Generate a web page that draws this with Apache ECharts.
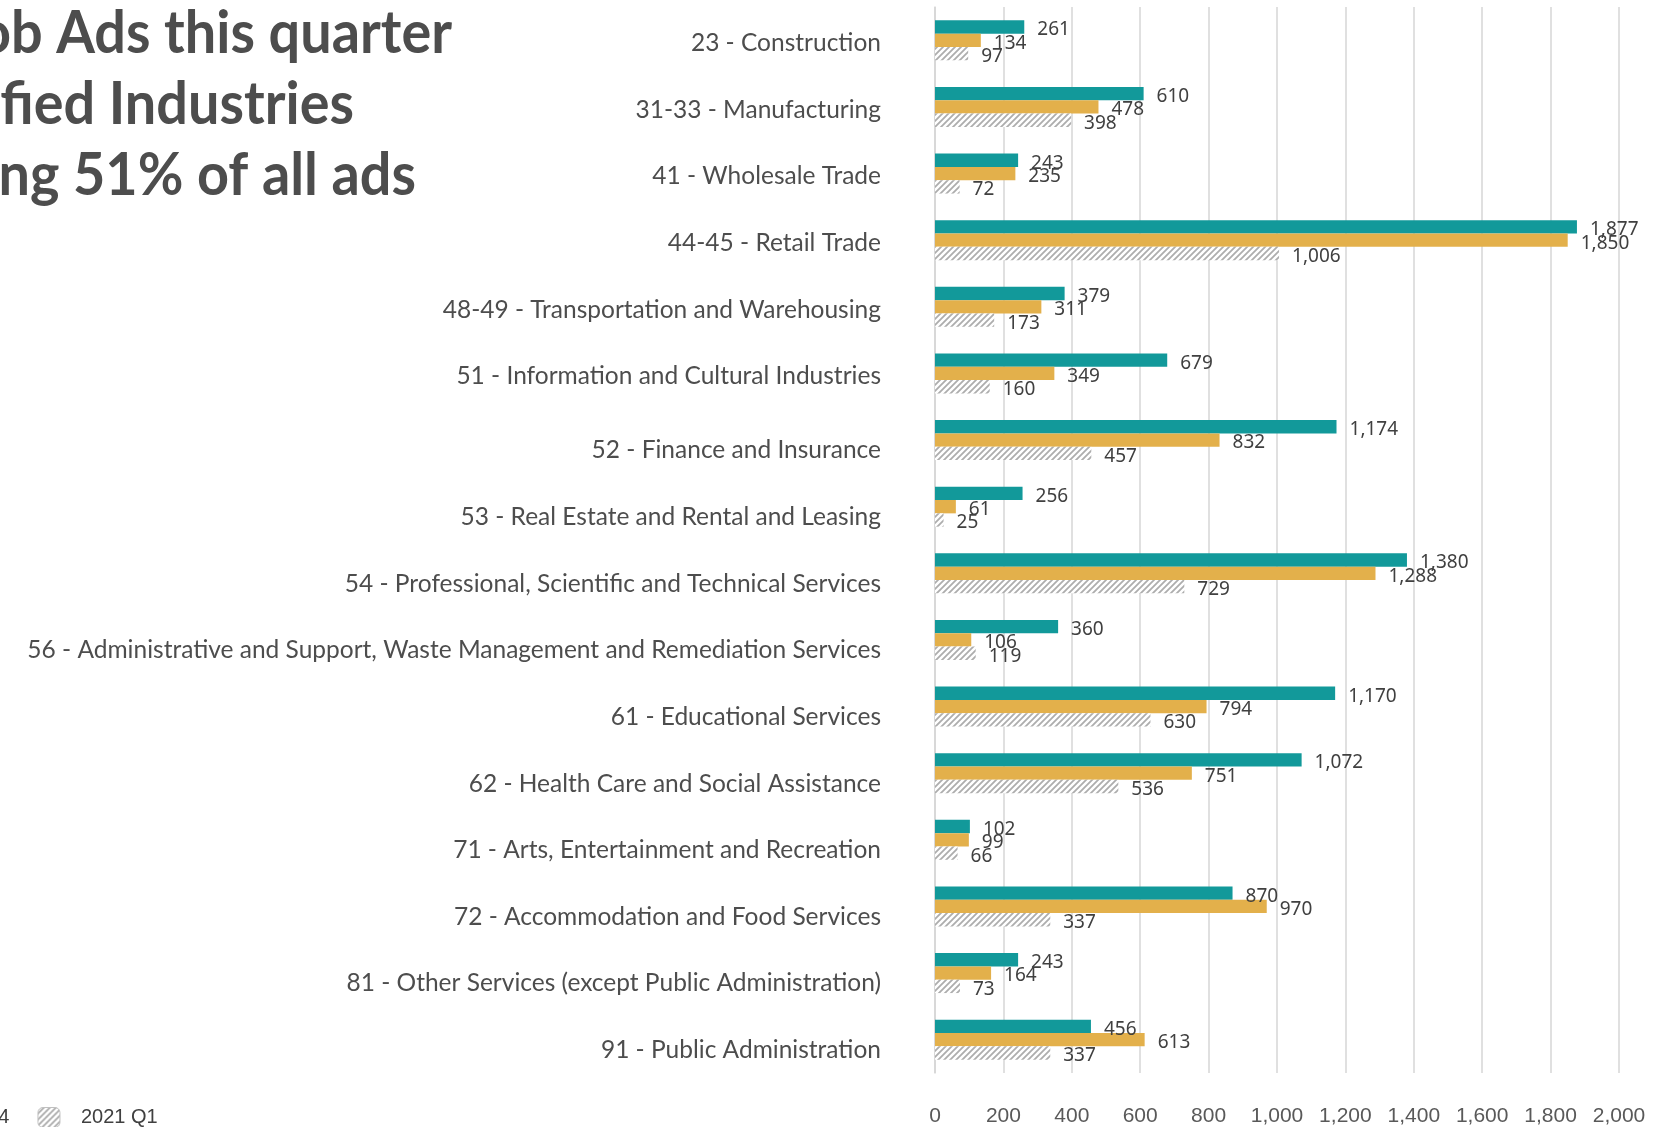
<!DOCTYPE html>
<html>
<head>
<meta charset="utf-8">
<script src="https://cdn.jsdelivr.net/npm/echarts@6/dist/echarts.min.js"></script>
<style>
  html, body { margin: 0; padding: 0; background: #fff; }
  #chart { width: 1674px; height: 1127px; }
</style>
</head>
<body>
<div id="chart"></div>
<script>
const industries = [
  '23 - Construction',
  '31-33 - Manufacturing',
  '41 - Wholesale Trade',
  '44-45 - Retail Trade',
  '48-49 - Transportation and Warehousing',
  '51 - Information and Cultural Industries',
  '52 - Finance and Insurance',
  '53 - Real Estate and Rental and Leasing',
  '54 - Professional, Scientific and Technical Services',
  '56 - Administrative and Support, Waste Management and Remediation Services',
  '61 - Educational Services',
  '62 - Health Care and Social Assistance',
  '71 - Arts, Entertainment and Recreation',
  '72 - Accommodation and Food Services',
  '81 - Other Services (except Public Administration)',
  '91 - Public Administration'
];
const seriesNames = ['2021 Q2', '2020 Q4', '2021 Q1'];
const adsTeal = [261, 610, 243, 1877, 379, 679, 1174, 256, 1380, 360, 1170, 1072, 102, 870, 243, 456];
const adsYellow = [134, 478, 235, 1850, 311, 349, 832, 61, 1288, 106, 794, 751, 99, 970, 164, 613];
const adsHatched = [97, 398, 72, 1006, 173, 160, 457, 25, 729, 119, 630, 536, 66, 337, 73, 337];
const titleLines = ['Top Job Ads this quarter', 'in Classified Industries', 'representing 51% of all ads'];

// diagonal hatch for the third series
function makeHatch() {
  const c = document.createElement('canvas');
  c.width = 6; c.height = 6;
  const ctx = c.getContext('2d');
  ctx.fillStyle = '#ffffff';
  ctx.fillRect(0, 0, 6, 6);
  ctx.strokeStyle = '#adadad';
  ctx.lineWidth = 1.8;
  ctx.beginPath();
  ctx.moveTo(0, 6); ctx.lineTo(6, 0);
  ctx.moveTo(-1, 1); ctx.lineTo(1, -1);
  ctx.moveTo(5, 7); ctx.lineTo(7, 5);
  ctx.stroke();
  return c;
}
const hatch = { image: makeHatch(), repeat: 'repeat' };

const chart = echarts.init(document.getElementById('chart'), null, { renderer: 'canvas' });

const valueLabel = {
  show: true,
  position: 'right',
  distance: 13,
  offset: [0, 3],
  fontFamily: 'Noto Sans',
  fontSize: 19,
  color: '#404040',
  formatter: p => p.value.toLocaleString('en-US')
};

const titleStyle = { align: 'right', verticalAlign: 'middle', fontFamily: 'Lato', fontWeight: 'bold', fontSize: 60, fill: '#4d4d4d' };

const option = {
  backgroundColor: '#ffffff',
  animation: false,
  grid: { left: 935, right: 55, top: 7, bottom: 52, containLabel: false },
  legend: {
    left: -263,
    top: 1102,
    itemWidth: 22,
    itemHeight: 20,
    itemGap: 28,
    textStyle: { fontFamily: 'Liberation Sans', fontSize: 20, color: '#404040', padding: [0, 0, 0, 16] },
    data: [
      { name: seriesNames[0] },
      { name: seriesNames[1] },
      { name: seriesNames[2], itemStyle: { borderColor: '#c0c0c0', borderWidth: 1 } }
    ]
  },
  xAxis: {
    type: 'value',
    min: 0,
    max: 2000,
    interval: 200,
    axisLine: { show: false },
    axisTick: { show: false },
    splitLine: { show: true, lineStyle: { color: '#d6d6d6', width: 1.5 } },
    axisLabel: {
      margin: 33,
      fontFamily: 'Liberation Sans',
      fontSize: 21,
      color: '#595959',
      formatter: v => v.toLocaleString('en-US')
    }
  },
  yAxis: {
    type: 'category',
    inverse: true,
    data: industries,
    axisLine: { show: true, lineStyle: { color: '#d6d6d6', width: 1.5 } },
    axisTick: { show: false },
    axisLabel: {
      margin: 54,
      fontFamily: 'Lato',
      fontSize: 24.5,
      color: '#4d4d4d',
      formatter: (v, i) => (i < 6 ? '{a|' + v + '}' : '{b|' + v + '}'),
      rich: {
        a: { fontFamily: 'Lato', fontSize: 24.5, color: '#4d4d4d', padding: [6, 0, 0, 0] },
        b: { fontFamily: 'Lato', fontSize: 24.5, color: '#4d4d4d', padding: [21, 0, 0, 0] }
      }
    }
  },
  series: [
    {
      name: seriesNames[0],
      type: 'bar',
      data: adsTeal,
      barGap: '0%',
      barCategoryGap: '40%',
      itemStyle: { color: '#12999a' },
      label: valueLabel
    },
    {
      name: seriesNames[1],
      type: 'bar',
      data: adsYellow,
      itemStyle: { color: '#e3b04b' },
      label: valueLabel
    },
    {
      name: seriesNames[2],
      type: 'bar',
      data: adsHatched,
      itemStyle: { color: hatch },
      label: valueLabel
    }
  ],
  graphic: [
    { type: 'text', x: 452, y: 34, scaleX: 0.93, style: Object.assign({ text: titleLines[0] }, titleStyle) },
    { type: 'text', x: 354, y: 105, scaleX: 0.93, style: Object.assign({ text: titleLines[1] }, titleStyle) },
    { type: 'text', x: 416, y: 176, scaleX: 0.93, style: Object.assign({ text: titleLines[2] }, titleStyle) }
  ]
};

chart.setOption(option);
</script>
</body>
</html>
